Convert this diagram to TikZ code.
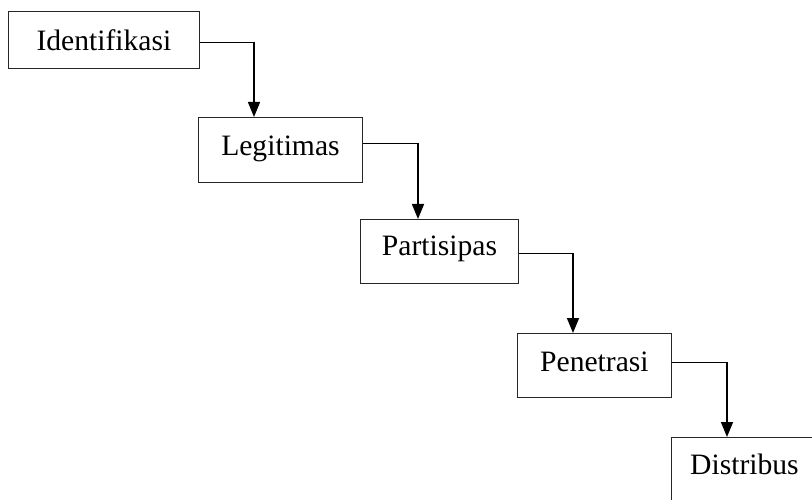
\documentclass[tikz,border=0pt]{standalone}
\usepackage{fontspec}
\setmainfont{Liberation Serif}
\usetikzlibrary{arrows.meta}
\tikzset{
  stagebox/.style={draw=black!85, line width=0.9pt, inner sep=0pt, anchor=north west,
    font=\fontsize{29.6}{32}\selectfont},
  flow/.style={draw=black, line width=1.5pt, -{Triangle[width=12pt,length=15pt]}}
}
\begin{document}
\begin{tikzpicture}[x=1pt,y=-1pt]
\useasboundingbox (0,0) rectangle (812,500);
\clip (0,0) rectangle (812,500);
\node[stagebox, minimum width=191, text height=39, text depth=18] (b1) at (8,11) {Identifikasi};
\node[stagebox, minimum width=164, text height=38, text depth=27] (b2) at (198,117) {Legitimas};
\node[stagebox, minimum width=158, text height=36, text depth=28] (b3) at (360,219) {Partisipas};
\node[stagebox, minimum width=154, text height=38, text depth=26] (b4) at (517,333) {Penetrasi};
\node[stagebox, minimum width=146, text height=37, text depth=40] (b5) at (671,437) {Distribus};
\draw[flow] ([yshift=-2.5pt]b1.east) -| ([xshift=56pt]b2.north west);
\draw[flow] ([yshift=6.5pt]b2.east) -| ([xshift=58pt]b3.north west);
\draw[flow] ([yshift=-2pt]b3.east) -| ([xshift=56pt]b4.north west);
\draw[flow] ([yshift=3pt]b4.east) -| ([xshift=56pt]b5.north west);
\end{tikzpicture}
\end{document}
